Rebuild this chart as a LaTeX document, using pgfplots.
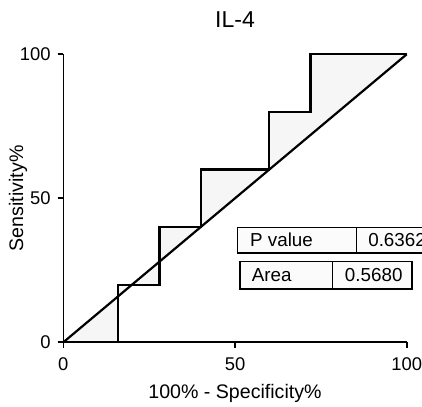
\documentclass[border=0pt]{standalone}
\usepackage{fontspec}
\setmainfont{Liberation Sans}
\usepackage{pgfplots}
\pgfplotsset{compat=1.18}
\begin{document}
\begin{tikzpicture}
\begin{axis}[
  at={(0,0)}, anchor=south west,
  scale only axis, width=171.7pt, height=144pt,
  xmin=0, xmax=100, ymin=0, ymax=100,
  axis lines=left,
  axis line style={line width=0.8pt, -},
  xtick={0,50,100}, ytick={0,50,100},
  tick align=outside, major tick length=2.8pt,
  tick style={line width=0.8pt, black},
  ticklabel style={font=\fontsize{9.2}{10}\selectfont},
  xticklabel style={yshift=-1.2pt},
  /pgf/number format/assume math mode=true,
  xlabel={100\% - Specificity\%}, ylabel={Sensitivity\%},
  label style={font=\fontsize{9.8}{11}\selectfont},
  xlabel style={at={(axis description cs:0.5,-0.177)}, anchor=center},
  ylabel style={at={(axis description cs:-0.1319,0.5)}, anchor=center},
  title={IL-4},
  every axis title shift=0pt,
  title style={font=\fontsize{11.5}{13}\selectfont, at={(axis description cs:0.5,1.119)}, anchor=center},
  clip=false,
]
\addplot[fill=gray!7, draw=none] coordinates {
(0,0) (16,0) (16,20) (28,20) (28,40) (40,40) (40,60) (60,60) (60,80) (72,80) (72,100) (100,100)} -- cycle;
\addplot[black, line width=1.1pt] coordinates {(0,0) (100,100)};
\addplot[black, line width=1.1pt] coordinates {
(0,0) (16,0) (16,20) (28,20) (28,40) (40,40) (40,60) (60,60) (60,80) (72,80) (72,100) (100,100)};
\draw[line width=0.8pt, fill=gray!3] (axis cs:50.7,31.1) rectangle (axis cs:108.8,39.9);
\draw[line width=0.8pt] (axis cs:85.4,31.1) -- (axis cs:85.4,39.9);
\node[font=\fontsize{9.4}{11}\selectfont, anchor=west, inner sep=0pt] at (axis cs:54.3,35.5) {P value};
\node[font=\fontsize{9.4}{11}\selectfont, anchor=west, inner sep=0pt] at (axis cs:88.7,35.5) {0.6362};
\draw[line width=0.8pt, fill=gray!3] (axis cs:51.5,18.5) rectangle (axis cs:101.5,28.0);
\draw[line width=0.8pt] (axis cs:78.4,18.5) -- (axis cs:78.4,28.0);
\node[font=\fontsize{9.4}{11}\selectfont] at (axis cs:60.7,23.25) {Area};
\node[font=\fontsize{9.4}{11}\selectfont] at (axis cs:90.4,23.25) {0.5680};
\end{axis}
\pgfresetboundingbox
\path[use as bounding box] (-31.65pt,-31.85pt) rectangle (179.35pt,171.15pt);
\end{tikzpicture}
\end{document}
